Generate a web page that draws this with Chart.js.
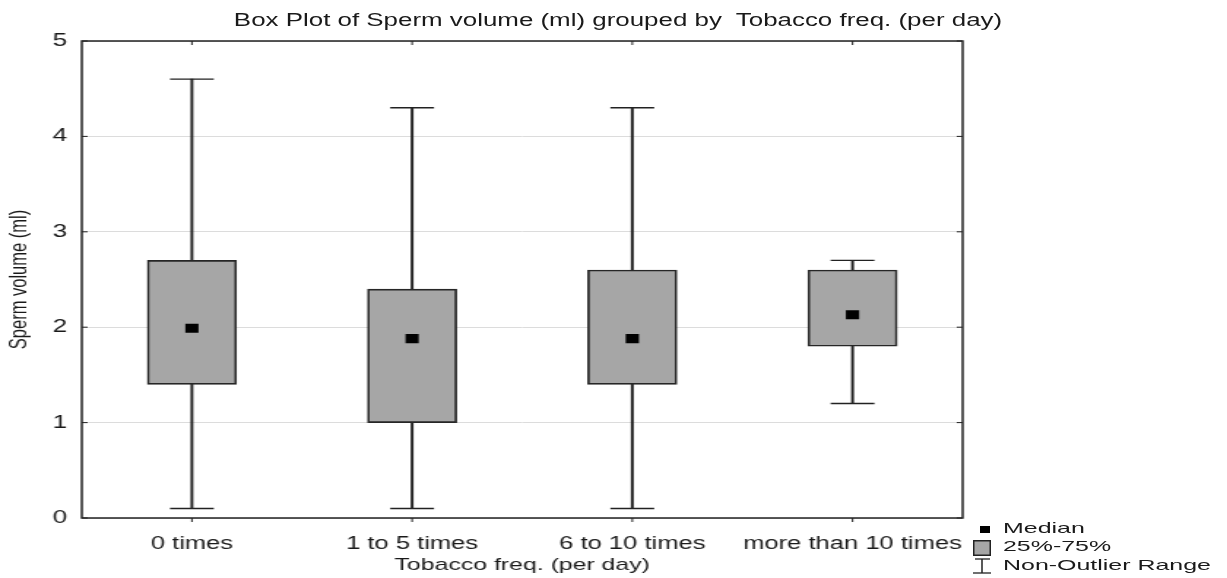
<!DOCTYPE html>
<html>
<head>
<meta charset="utf-8">
<script src="https://cdn.jsdelivr.net/npm/chart.js@4.4.1/dist/chart.umd.min.js"></script>
<style>
    body { margin: 0; background: #fff; }
    #wrap { position: relative; width: 1227px; height: 578px; overflow: hidden; }
    #myChart { position: absolute; left: 0; top: 0; }
    .title {
        position: absolute; left: 618px; top: 10px;
        font: 17.5px 'Liberation Sans', Arial, sans-serif; line-height: 20px;
        color: #1a1a1a; white-space: nowrap;
        transform: translateX(-50%) scaleX(1.48);
    }
    .legend { position: absolute; left: 970px; top: 518px; width: 257px; height: 60px; }
    .legend svg { position: absolute; left: 0; top: 0; }
    .legend span {
        position: absolute; left: 33px; white-space: nowrap;
        font: 14.5px 'Liberation Sans', Arial, sans-serif; line-height: 18px;
        color: #1a1a1a; transform-origin: left center; transform: scaleX(1.72);
    }
</style>
</head>
<body>
<div id="wrap">
    <!-- drawn at 840 wide and stretched like the original export -->
    <canvas id="myChart" width="840" height="578" style="width:1227px;height:578px"></canvas>
    <div class="title">Box Plot of Sperm volume (ml) grouped by&nbsp; Tobacco freq. (per day)</div>
    <div class="legend">
        <svg width="30" height="60">
            <rect x="10" y="8" width="10" height="7" fill="#000"></rect>
            <rect x="3.75" y="22.75" width="16.5" height="14.5" fill="#a6a6a6" stroke="#222" stroke-width="1.5"></rect>
            <line x1="5" y1="41" x2="20" y2="41" stroke="#222" stroke-width="1.3"></line>
            <line x1="12" y1="41" x2="12" y2="55" stroke="#222" stroke-width="1.5"></line>
            <line x1="3" y1="55" x2="21" y2="55" stroke="#222" stroke-width="1.3"></line>
        </svg>
        <span style="top:1px">Median</span>
        <span style="top:19px">25%-75%</span>
        <span style="top:38px">Non-Outlier Range</span>
    </div>
</div>
<script>
    const categories = ['0 times', '1 to 5 times', '6 to 10 times', 'more than 10 times'];
    const whiskerMin = [0.1, 0.1, 0.1, 1.2];
    const q1 = [1.4, 1.0, 1.4, 1.8];
    const median = [1.99, 1.88, 1.88, 2.13];
    const q3 = [2.7, 2.4, 2.6, 2.6];
    const whiskerMax = [4.6, 4.3, 4.3, 2.7];
    const yTicks = [0, 1, 2, 3, 4, 5];

    const ink = '#222';

    Chart.defaults.font.family = "'Liberation Sans', Arial, sans-serif";
    Chart.defaults.color = '#1a1a1a';

    // outer frame plus the small inward tick marks
    const framePlugin = {
        id: 'frame',
        afterDraw(chart) {
            const { ctx, chartArea: a, scales } = chart;
            ctx.save();
            ctx.strokeStyle = ink;
            ctx.lineWidth = 1.5;
            ctx.strokeRect(a.left, a.top, a.right - a.left, a.bottom - a.top);
            ctx.lineWidth = 1;
            ctx.beginPath();
            yTicks.forEach((v) => {
                const y = scales.y.getPixelForValue(v);
                ctx.moveTo(a.left, y); ctx.lineTo(a.left + 4, y);
                ctx.moveTo(a.right, y); ctx.lineTo(a.right - 4, y);
            });
            categories.forEach((c, i) => {
                const x = scales.x.getPixelForValue(i);
                ctx.moveTo(x, a.top); ctx.lineTo(x, a.top + 4);
                ctx.moveTo(x, a.bottom); ctx.lineTo(x, a.bottom + 4);
            });
            ctx.stroke();
            ctx.restore();
        }
    };

    let ctx = document.getElementById('myChart').getContext('2d');

    new Chart(ctx, {
        type: 'bar',
        data: {
            labels: categories,
            datasets: [
                {
                    type: 'line',
                    data: median,
                    showLine: false,
                    pointStyle: 'rect',
                    pointRadius: 6.4,
                    pointBackgroundColor: '#000',
                    pointBorderWidth: 0,
                    order: 0
                },
                {
                    type: 'line',
                    data: whiskerMax,
                    showLine: false,
                    pointStyle: 'line',
                    pointRadius: 15,
                    pointBorderColor: ink,
                    pointBorderWidth: 1.4,
                    order: 1
                },
                {
                    type: 'line',
                    data: whiskerMin,
                    showLine: false,
                    pointStyle: 'line',
                    pointRadius: 15,
                    pointBorderColor: ink,
                    pointBorderWidth: 1.4,
                    order: 1
                },
                {
                    data: categories.map((c, i) => [q1[i], q3[i]]),
                    backgroundColor: '#a6a6a6',
                    borderColor: '#262626',
                    borderWidth: 1.7,
                    borderSkipped: false,
                    barThickness: 61,
                    grouped: false,
                    order: 2
                },
                {
                    data: categories.map((c, i) => [whiskerMin[i], whiskerMax[i]]),
                    backgroundColor: ink,
                    borderWidth: 0,
                    barThickness: 1.3,
                    grouped: false,
                    order: 3
                }
            ]
        },
        options: {
            responsive: false,
            devicePixelRatio: 1,
            animation: false,
            layout: { padding: { top: 41, right: 181, left: 0, bottom: 0 } },
            plugins: {
                legend: { display: false },
                title: { display: false },
                tooltip: { enabled: false }
            },
            scales: {
                x: {
                    grid: { display: false },
                    border: { display: false },
                    ticks: { font: { size: 17.5 }, padding: 8, maxRotation: 0, autoSkip: false },
                    title: {
                        display: true,
                        text: 'Tobacco freq. (per day)',
                        font: { size: 17 },
                        padding: { top: 0, bottom: 2 }
                    },
                    afterFit(scale) { scale.height = 60; }
                },
                y: {
                    min: 0,
                    max: 5,
                    grid: { color: '#dcdcdc', lineWidth: 1, drawTicks: false },
                    border: { display: false },
                    ticks: {
                        stepSize: 1,
                        padding: 10,
                        font: { size: 18 },
                        callback: (v) => yTicks.includes(v) ? String(v) : ''
                    },
                    title: {
                        display: true,
                        text: 'Sperm volume (ml)',
                        font: { size: 16.5 },
                        padding: { top: 4, bottom: 0 }
                    },
                    afterFit(scale) { scale.width = 56; }
                }
            }
        },
        plugins: [framePlugin]
    });
</script>
</body>
</html>
